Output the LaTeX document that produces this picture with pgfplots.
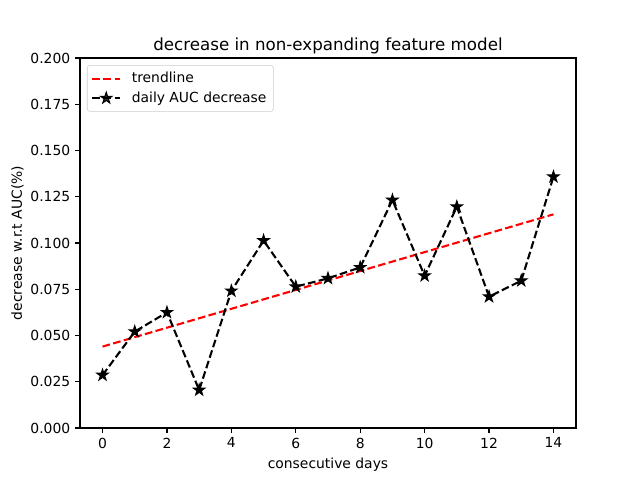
\documentclass[border=0pt]{standalone}
\usepackage{fontspec}
\setmainfont{DejaVu Sans}
\usepackage{pgfplots}
\pgfplotsset{compat=1.18}
\pgfdeclareplotmark{fstar}{%
  \pgfpathmoveto{\pgfpointpolar{90}{\pgfplotmarksize}}%
  \pgfpathlineto{\pgfpointpolar{126}{0.382\pgfplotmarksize}}%
  \pgfpathlineto{\pgfpointpolar{162}{\pgfplotmarksize}}%
  \pgfpathlineto{\pgfpointpolar{198}{0.382\pgfplotmarksize}}%
  \pgfpathlineto{\pgfpointpolar{234}{\pgfplotmarksize}}%
  \pgfpathlineto{\pgfpointpolar{270}{0.382\pgfplotmarksize}}%
  \pgfpathlineto{\pgfpointpolar{306}{\pgfplotmarksize}}%
  \pgfpathlineto{\pgfpointpolar{342}{0.382\pgfplotmarksize}}%
  \pgfpathlineto{\pgfpointpolar{18}{\pgfplotmarksize}}%
  \pgfpathlineto{\pgfpointpolar{54}{0.382\pgfplotmarksize}}%
  \pgfpathclose
  \pgfusepathqfillstroke}
\pgfplotstableread{
x y
0 0.0286
1 0.0521
2 0.0625
3 0.0205
4 0.0741
5 0.1013
6 0.0764
7 0.0809
8 0.0868
9 0.1232
10 0.0823
11 0.1196
12 0.0710
13 0.0796
14 0.1358
}\daily
\pgfplotstableread{
x y
0 0.0440
14 0.1155
}\trend
\begin{document}
\begin{tikzpicture}
\begin{axis}[
  name=ax,
  scale only axis,
  width=357.12pt, height=266.4pt,
  xmin=-0.7, xmax=14.7, ymin=0, ymax=0.2,
  xtick={0,2,4,6,8,10,12,14},
  ytick={0,0.025,0.05,0.075,0.1,0.125,0.15,0.175,0.2},
  scaled y ticks=false,
  yticklabel style={/pgf/number format/.cd, fixed, fixed zerofill, precision=3, assume math mode=true},
  xticklabel style={/pgf/number format/assume math mode=true},
  ticklabel style={font=\fontsize{10}{12}\selectfont},
  tick align=outside, tick pos=left,
  major tick length=3.5pt,
  tick style={black, line width=0.8pt},
  axis line style={line width=0.8pt},
  title={decrease in non-expanding feature model},
  title style={font=\fontsize{12}{14.4}\selectfont, yshift=-6.3pt},
  xlabel={consecutive days},
  ylabel={decrease w.r.t AUC(\%)},
  ylabel style={yshift=-2pt},
  label style={font=\fontsize{10}{12}\selectfont},
  legend style={at={(0.014,0.981)}, anchor=north west, draw=black!20, rounded corners=2pt,
    font=\fontsize{10}{12}\selectfont, row sep=1pt, inner sep=3pt, fill=white, fill opacity=0.8, text opacity=1},
  legend cell align=left,
  legend image code/.code={\draw[mark repeat=2, mark phase=2, #1] plot coordinates {(0cm,0cm) (0.35cm,0cm) (0.7cm,0cm)}; \path (0.9cm,0cm);},
]
\addplot[red, line width=1.5pt, dash pattern=on 5.55pt off 2.4pt] table[x=x,y=y] {\trend};
\addlegendentry{trendline}
\addplot[black, line width=1.5pt, dash pattern=on 5.55pt off 2.4pt, mark=fstar, mark size=4.2pt, mark options={solid, fill=black, line width=0.8pt}] table[x=x,y=y] {\daily};
\addlegendentry{daily AUC decrease}
\end{axis}
\pgfresetboundingbox
\path ([xshift=-57.6pt,yshift=-37.44pt]ax.south west) rectangle ([xshift=46.08pt,yshift=41.76pt]ax.north east);
\end{tikzpicture}
\end{document}
